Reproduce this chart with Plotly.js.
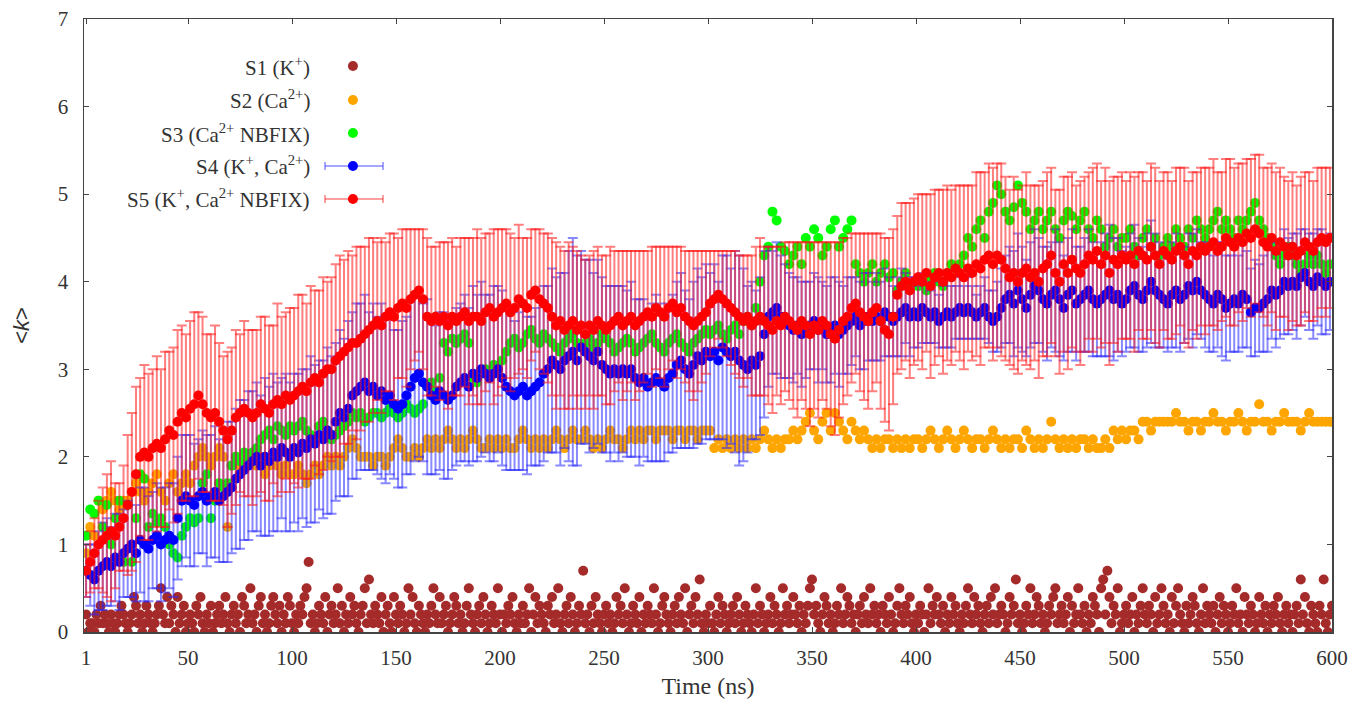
<!DOCTYPE html>
<html>
<head>
<meta charset="utf-8">
<script src="https://cdn.plot.ly/plotly-3.0.1.min.js"></script>
<style>html,body{margin:0;padding:0;background:#fff;}#chart{width:1356px;height:702px;}</style>
</head>
<body>
<div id="chart"></div>
<script>
// S1 is read at every 1 ns (t = 1..600); S2..S5 at every 2 ns (t = 1, 3, ..., 599)
const fineStart = 1, fineStep = 1, fineN = 600;
const tStart = 1, tStep = 2, nPoints = 300;

const seriesNames = ["S1 (K<sup>+</sup>)", "S2 (Ca<sup>2+</sup>)", "S3 (Ca<sup>2+</sup> NBFIX)",
                     "S4 (K<sup>+</sup>, Ca<sup>2+</sup>)", "S5 (K<sup>+</sup>, Ca<sup>2+</sup> NBFIX)"];

const xTickVals = [1, 50, 100, 150, 200, 250, 300, 350, 400, 450, 500, 550, 600];
const yTickVals = [0, 1, 2, 3, 4, 5, 6, 7];

const S1 = [
0.2,0.0,0.1,0.1,0.0,0.2,0.1,0.3,0.1,0.2,
0.1,0.0,0.2,0.1,0.0,0.1,0.2,0.3,0.2,0.1,
0.0,0.1,0.2,0.4,0.3,0.1,0.2,0.0,0.1,0.3,
0.2,0.1,0.0,0.1,0.2,0.3,0.5,0.2,0.1,0.4,
0.1,0.3,0.2,0.0,0.4,0.1,0.2,0.3,0.0,0.1,
0.2,0.1,0.0,0.3,0.2,0.4,0.1,0.0,0.2,0.1,
0.3,0.0,0.1,0.2,0.3,0.1,0.2,0.4,0.1,0.0,
0.2,0.3,0.1,0.2,0.0,0.4,0.3,0.1,0.2,0.5,
0.1,0.2,0.0,0.3,0.4,0.1,0.2,0.0,0.1,0.3,
0.4,0.2,0.1,0.3,0.0,0.2,0.1,0.4,0.3,0.1,
0.0,0.2,0.1,0.3,0.2,0.4,0.5,0.8,0.1,0.2,
0.0,0.1,0.3,0.2,0.1,0.4,0.0,0.2,0.3,0.1,
0.2,0.5,0.1,0.3,0.0,0.2,0.1,0.4,0.2,0.3,
0.1,0.0,0.2,0.3,0.5,0.1,0.6,0.2,0.1,0.3,
0.2,0.1,0.4,0.0,0.2,0.3,0.1,0.0,0.4,0.2,
0.1,0.3,0.2,0.0,0.1,0.5,0.2,0.4,0.1,0.0,
0.3,0.2,0.1,0.0,0.2,0.1,0.3,0.5,0.2,0.1,
0.4,0.1,0.2,0.3,0.0,0.1,0.2,0.4,0.3,0.1,
0.2,0.0,0.1,0.3,0.5,0.2,0.1,0.0,0.2,0.3,
0.1,0.4,0.2,0.0,0.1,0.3,0.2,0.1,0.5,0.2,
0.0,0.2,0.1,0.3,0.2,0.4,0.1,0.0,0.2,0.1,
0.3,0.1,0.2,0.5,0.0,0.2,0.4,0.1,0.3,0.2,
0.1,0.0,0.3,0.2,0.4,0.1,0.2,0.5,0.1,0.0,
0.2,0.3,0.1,0.4,0.2,0.0,0.1,0.3,0.2,0.7,
0.1,0.2,0.0,0.3,0.1,0.4,0.2,0.1,0.0,0.2,
0.3,0.1,0.2,0.0,0.1,0.4,0.2,0.3,0.1,0.5,
0.2,0.0,0.1,0.3,0.2,0.1,0.4,0.0,0.2,0.1,
0.3,0.2,0.1,0.5,0.2,0.0,0.1,0.3,0.4,0.2,
0.1,0.0,0.2,0.3,0.1,0.4,0.2,0.1,0.5,0.0,
0.2,0.3,0.1,0.4,0.2,0.6,0.1,0.0,0.2,0.1,
0.3,0.1,0.0,0.2,0.4,0.1,0.3,0.2,0.0,0.1,
0.2,0.3,0.1,0.4,0.2,0.0,0.1,0.3,0.2,0.1,
0.0,0.2,0.5,0.1,0.3,0.2,0.0,0.1,0.2,0.4,
0.1,0.3,0.2,0.0,0.1,0.5,0.2,0.3,0.1,0.2,
0.4,0.2,0.1,0.3,0.0,0.2,0.1,0.3,0.5,0.6,
0.2,0.3,0.1,0.0,0.2,0.4,0.3,0.1,0.2,0.0,
0.1,0.3,0.2,0.5,0.1,0.2,0.4,0.3,0.1,0.2,
0.0,0.2,0.3,0.1,0.4,0.2,0.1,0.5,0.2,0.3,
0.1,0.2,0.0,0.3,0.2,0.1,0.4,0.2,0.0,0.1,
0.3,0.5,0.2,0.1,0.3,0.2,0.4,0.1,0.0,0.2,
0.1,0.3,0.2,0.0,0.2,0.5,0.1,0.3,0.2,0.4,
0.2,0.1,0.3,0.0,0.2,0.1,0.4,0.2,0.3,0.1,
0.0,0.2,0.1,0.3,0.5,0.2,0.1,0.4,0.2,0.3,
0.1,0.0,0.2,0.3,0.1,0.4,0.2,0.5,0.1,0.2,
0.3,0.2,0.0,0.1,0.4,0.2,0.3,0.6,0.1,0.2,
0.0,0.1,0.3,0.2,0.5,0.1,0.2,0.4,0.3,0.1,
0.2,0.0,0.1,0.3,0.2,0.4,0.5,0.1,0.2,0.3,
0.1,0.2,0.4,0.0,0.3,0.1,0.2,0.5,0.2,0.1,
0.3,0.0,0.2,0.1,0.4,0.3,0.2,0.0,0.5,0.6,
0.2,0.7,0.4,0.1,0.3,0.2,0.5,0.0,0.1,0.2,
0.3,0.1,0.2,0.4,0.0,0.2,0.1,0.3,0.5,0.2,
0.1,0.3,0.2,0.0,0.4,0.1,0.2,0.5,0.3,0.1,
0.2,0.0,0.4,0.1,0.3,0.5,0.2,0.1,0.0,0.3,
0.1,0.2,0.4,0.3,0.1,0.0,0.2,0.5,0.1,0.3,
0.2,0.1,0.3,0.0,0.2,0.4,0.1,0.3,0.2,0.0,
0.1,0.3,0.2,0.5,0.1,0.2,0.0,0.4,0.2,0.1,
0.3,0.2,0.0,0.1,0.4,0.2,0.1,0.3,0.0,0.2,
0.1,0.3,0.2,0.4,0.1,0.0,0.2,0.3,0.1,0.2,
0.0,0.2,0.3,0.1,0.6,0.2,0.4,0.1,0.0,0.3,
0.2,0.1,0.0,0.3,0.2,0.6,0.1,0.0,0.2,0.3];

const S2 = [
0.9,1.2,1.1,1.5,1.4,1.5,1.6,1.5,1.4,1.5,
1.5,1.6,1.7,1.6,1.5,1.6,1.7,1.8,1.6,1.5,
1.7,1.8,1.6,1.7,1.8,1.7,1.9,2.0,2.1,2.0,
1.9,2.0,2.1,2.0,1.2,1.9,2.0,1.9,2.0,1.9,
2.0,1.9,2.0,1.8,1.9,2.0,1.9,1.8,1.9,1.8,
1.8,1.9,1.8,1.7,1.8,1.9,1.8,1.9,2.0,1.9,
2.0,1.9,2.0,2.1,2.2,2.1,2.0,2.0,2.0,1.9,
2.0,2.0,1.9,2.0,2.1,2.2,2.1,2.0,2.0,2.1,
2.0,2.1,2.2,2.1,2.2,2.1,2.2,2.3,2.2,2.1,
2.2,2.1,2.2,2.3,2.2,2.1,2.1,2.2,2.1,2.2,
2.1,2.2,2.1,2.1,2.2,2.3,2.2,2.1,2.2,2.1,
2.2,2.1,2.2,2.3,2.2,2.1,2.2,2.3,2.2,2.2,
2.3,2.2,2.1,2.2,2.1,2.2,2.3,2.2,2.2,2.1,
2.2,2.3,2.2,2.3,2.2,2.3,2.3,2.2,2.3,2.3,
2.3,2.2,2.3,2.3,2.2,2.3,2.3,2.2,2.3,2.3,
2.3,2.1,2.2,2.1,2.2,2.1,2.2,2.1,2.2,2.1,
2.2,2.1,2.2,2.3,2.2,2.1,2.2,2.1,2.2,2.2,
2.3,2.2,2.3,2.4,2.5,2.3,2.2,2.4,2.5,2.3,
2.5,2.4,2.3,2.2,2.4,2.3,2.2,2.3,2.2,2.1,
2.2,2.1,2.2,2.2,2.1,2.2,2.1,2.2,2.1,2.2,
2.2,2.1,2.2,2.3,2.2,2.1,2.2,2.3,2.2,2.1,
2.2,2.3,2.2,2.1,2.2,2.2,2.1,2.2,2.3,2.2,
2.1,2.2,2.1,2.2,2.2,2.1,2.3,2.2,2.1,2.2,
2.1,2.2,2.4,2.2,2.1,2.2,2.1,2.2,2.1,2.2,
2.2,2.1,2.2,2.1,2.1,2.2,2.1,2.3,2.2,2.3,
2.2,2.3,2.3,2.2,2.4,2.4,2.3,2.4,2.4,2.4,
2.4,2.4,2.5,2.4,2.4,2.3,2.4,2.4,2.3,2.4,
2.4,2.5,2.4,2.4,2.3,2.4,2.4,2.5,2.4,2.3,
2.4,2.4,2.6,2.4,2.4,2.3,2.4,2.4,2.5,2.4,
2.4,2.4,2.3,2.4,2.5,2.4,2.4,2.4,2.4,2.4];

const S3 = [
1.1,1.4,1.35,1.5,1.2,1.45,1.0,1.3,1.5,0.8,
1.45,0.8,1.3,1.8,1.75,1.2,1.35,1.25,1.3,1.2,
1.0,0.9,0.85,1.1,1.2,1.3,1.25,1.3,1.7,1.8,
1.3,1.5,1.7,1.65,1.7,1.9,2.0,1.95,2.05,2.0,
2.05,2.1,2.2,2.25,2.3,2.2,2.35,2.3,2.25,2.35,
2.3,2.35,2.4,2.3,2.25,2.2,2.35,2.4,2.3,2.2,
2.25,2.3,2.35,2.4,2.5,2.45,2.5,2.4,2.45,2.5,
2.5,2.45,2.5,2.55,2.5,2.45,2.5,2.6,2.55,2.5,
2.55,2.6,2.8,2.85,2.75,2.9,3.3,3.2,3.35,3.3,
3.35,3.4,3.3,2.9,2.85,2.95,3.0,2.95,3.05,3.0,
3.1,3.2,3.3,3.35,3.25,3.3,3.4,3.45,3.35,3.3,
3.4,3.35,3.3,3.25,3.2,3.3,3.35,3.4,3.3,3.25,
3.3,3.35,3.25,3.3,3.4,3.35,3.3,3.2,3.25,3.3,
3.35,3.3,3.2,3.25,3.3,3.35,3.4,3.3,3.25,3.2,
3.3,3.35,3.4,3.3,3.25,3.2,3.3,3.35,3.4,3.45,
3.4,3.45,3.5,3.4,3.35,3.45,3.5,3.4,3.55,3.6,
3.5,3.7,4.0,4.3,4.4,4.8,4.7,4.4,4.35,4.2,
4.3,4.4,4.2,4.5,4.4,4.6,4.5,4.3,4.4,4.6,
4.7,4.4,4.5,4.6,4.7,4.2,4.1,4.0,4.1,4.2,
4.0,4.1,4.2,4.05,4.1,3.9,4.0,4.1,3.95,4.0,
3.95,4.0,3.9,4.05,4.1,4.0,3.95,4.1,4.2,4.15,
4.2,4.3,4.5,4.4,4.6,4.7,4.5,4.8,4.9,5.1,
5.0,4.8,4.7,4.85,5.1,4.9,4.8,4.6,4.7,4.8,
4.6,4.7,4.8,4.6,4.5,4.7,4.8,4.75,4.6,4.7,
4.8,4.6,4.5,4.7,4.6,4.4,4.5,4.6,4.4,4.5,
4.5,4.6,4.4,4.3,4.5,4.6,4.4,4.5,4.3,4.4,
4.5,4.4,4.6,4.5,4.4,4.6,4.5,4.7,4.6,4.5,
4.6,4.7,4.8,4.6,4.7,4.6,4.5,4.7,4.6,4.7,
4.8,4.9,4.7,4.6,4.5,4.4,4.3,4.2,4.3,4.4,
4.3,4.2,4.1,4.2,4.3,4.2,4.3,4.2,4.1,4.2];

const S4 = [
0.7,0.65,0.6,0.7,0.75,0.8,0.75,0.85,0.8,0.9,
0.95,1.0,0.9,1.05,1.0,0.95,1.05,1.1,1.0,1.05,
1.1,1.05,1.3,1.5,1.55,1.5,1.45,1.55,1.6,1.5,
1.55,1.6,1.5,1.55,1.6,1.65,1.75,1.8,1.85,1.9,
1.95,2.0,1.9,2.0,1.95,2.05,2.0,2.1,2.05,2.0,
2.1,2.05,2.15,2.1,2.2,2.15,2.25,2.2,2.3,2.25,
2.4,2.5,2.45,2.55,2.7,2.75,2.8,2.85,2.75,2.8,
2.7,2.75,2.65,2.7,2.6,2.55,2.6,2.7,2.8,2.9,
2.95,2.85,2.8,2.7,2.65,2.75,2.7,2.65,2.7,2.8,
2.85,2.9,2.8,2.95,2.9,3.0,2.95,2.9,2.95,3.0,
2.9,2.8,2.75,2.7,2.75,2.8,2.7,2.75,2.8,2.85,
2.95,3.0,3.1,3.05,3.0,3.1,3.15,3.2,3.1,3.25,
3.2,3.15,3.1,3.2,3.05,3.0,2.95,3.0,2.95,3.0,
2.95,3.0,2.9,2.85,2.9,2.8,2.85,2.9,2.85,2.8,
2.9,2.95,3.05,3.1,3.0,2.95,3.05,3.15,3.1,3.2,
3.15,3.2,3.1,3.25,3.2,3.15,3.2,3.1,3.05,3.0,
3.1,3.05,3.15,3.4,3.6,3.65,3.7,3.6,3.55,3.5,
3.45,3.5,3.4,3.45,3.5,3.55,3.45,3.5,3.4,3.45,
3.5,3.4,3.45,3.5,3.55,3.6,3.5,3.55,3.6,3.55,
3.6,3.55,3.65,3.6,3.55,3.6,3.65,3.7,3.6,3.65,
3.6,3.7,3.65,3.6,3.65,3.55,3.6,3.65,3.6,3.65,
3.7,3.65,3.7,3.65,3.6,3.65,3.7,3.6,3.55,3.6,
3.7,3.8,3.85,3.75,3.9,3.8,3.7,3.85,3.95,3.9,
3.8,3.75,3.85,3.9,3.8,3.7,3.85,3.9,3.75,3.8,
3.85,3.9,3.8,3.75,3.8,3.85,3.9,3.8,3.85,3.75,
3.8,3.9,3.95,3.85,3.8,3.9,4.0,3.9,3.85,3.8,
3.75,3.85,3.9,3.8,3.85,3.95,3.9,4.0,3.9,3.85,
3.8,3.75,3.85,3.8,3.7,3.75,3.8,3.75,3.85,3.8,
3.65,3.7,3.7,3.75,3.8,3.9,3.85,3.9,4.0,3.95,
4.0,3.95,4.05,4.1,4.0,3.95,4.05,4.0,3.95,4.0];

const S4err = [
0.3,0.35,0.4,0.45,0.5,0.5,0.45,0.5,0.55,0.5,
0.55,0.6,0.55,0.6,0.65,0.6,0.55,0.6,0.65,0.6,
0.6,0.65,0.7,0.75,0.7,0.75,0.7,0.65,0.7,0.75,
0.7,0.75,0.7,0.75,0.8,0.75,0.8,0.85,0.8,0.85,
0.8,0.85,0.8,0.9,0.85,0.9,0.85,0.8,0.9,0.85,
0.85,0.9,0.85,0.9,0.95,0.9,0.85,0.9,0.95,0.9,
0.9,0.95,0.9,1.0,0.95,1.0,0.95,1.0,0.9,0.95,
0.9,1.0,0.95,0.9,0.85,0.9,0.95,0.9,1.0,0.95,
0.95,0.9,1.0,0.9,0.85,0.9,0.95,0.9,0.85,0.9,
0.9,0.95,0.9,1.0,0.95,1.0,0.9,0.95,1.0,0.95,
1.0,0.95,0.9,0.85,0.9,0.95,0.9,0.85,0.9,0.95,
1.0,0.95,1.05,1.0,1.1,1.0,1.2,1.3,1.2,1.1,
1.05,1.1,1.0,1.05,1.0,0.95,1.0,0.95,1.0,0.95,
0.95,1.0,0.9,0.95,0.9,0.85,0.9,0.95,0.9,0.85,
0.85,0.9,0.95,1.0,0.9,0.85,0.95,1.0,0.95,1.0,
0.95,1.0,0.9,1.05,1.1,1.0,1.15,1.2,1.1,0.95,
0.9,0.85,0.9,0.95,0.8,0.7,0.75,0.7,0.65,0.6,
0.6,0.55,0.6,0.55,0.5,0.55,0.6,0.5,0.55,0.6,
0.55,0.6,0.5,0.55,0.5,0.45,0.5,0.55,0.5,0.45,
0.5,0.45,0.5,0.45,0.4,0.45,0.5,0.4,0.45,0.4,
0.35,0.4,0.35,0.3,0.35,0.3,0.35,0.4,0.35,0.3,
0.35,0.3,0.35,0.3,0.25,0.3,0.35,0.3,0.35,0.4,
0.45,0.5,0.55,0.6,0.65,0.6,0.55,0.6,0.65,0.6,
0.6,0.65,0.6,0.7,0.65,0.6,0.65,0.7,0.65,0.6,
0.65,0.7,0.65,0.6,0.65,0.7,0.75,0.7,0.65,0.6,
0.6,0.65,0.7,0.65,0.6,0.65,0.7,0.65,0.6,0.55,
0.55,0.6,0.65,0.6,0.55,0.6,0.65,0.6,0.55,0.6,
0.6,0.55,0.6,0.65,0.6,0.55,0.6,0.55,0.6,0.55,
0.5,0.55,0.5,0.55,0.6,0.55,0.6,0.55,0.6,0.55,
0.55,0.6,0.55,0.5,0.55,0.6,0.55,0.6,0.55,0.55];

const S5 = [
0.7,0.8,0.9,1.0,1.05,1.1,1.15,1.1,1.2,1.3,
1.45,1.6,1.8,2.0,2.05,2.0,2.1,2.15,2.1,2.2,
2.3,2.25,2.4,2.5,2.45,2.55,2.6,2.7,2.6,2.5,
2.45,2.5,2.4,2.3,2.2,2.3,2.45,2.5,2.55,2.5,
2.45,2.5,2.6,2.55,2.5,2.6,2.65,2.6,2.7,2.65,
2.7,2.75,2.8,2.75,2.85,2.9,2.85,2.95,3.0,3.0,
3.1,3.15,3.2,3.25,3.3,3.3,3.35,3.4,3.45,3.5,
3.55,3.5,3.6,3.65,3.6,3.7,3.75,3.7,3.8,3.85,
3.9,3.8,3.6,3.55,3.6,3.55,3.6,3.5,3.6,3.55,
3.6,3.65,3.55,3.6,3.6,3.55,3.65,3.7,3.6,3.65,
3.7,3.75,3.65,3.7,3.8,3.75,3.7,3.85,3.9,3.8,
3.75,3.7,3.6,3.5,3.55,3.45,3.5,3.55,3.45,3.5,
3.4,3.5,3.45,3.55,3.5,3.45,3.5,3.55,3.6,3.5,
3.55,3.6,3.5,3.55,3.6,3.65,3.6,3.7,3.65,3.6,
3.7,3.75,3.65,3.7,3.6,3.55,3.5,3.55,3.6,3.65,
3.75,3.8,3.85,3.8,3.75,3.7,3.65,3.6,3.55,3.6,
3.5,3.55,3.6,3.55,3.5,3.45,3.55,3.5,3.6,3.55,
3.5,3.45,3.55,3.5,3.4,3.5,3.45,3.55,3.5,3.4,
3.35,3.45,3.55,3.6,3.7,3.75,3.65,3.6,3.55,3.65,
3.7,3.55,3.45,3.4,3.6,3.85,3.95,4.0,3.9,4.0,
4.05,4.0,4.1,3.95,4.05,4.1,4.0,4.1,4.05,4.15,
4.1,4.05,4.15,4.1,4.2,4.15,4.25,4.3,4.2,4.3,
4.25,4.15,4.05,4.1,4.0,4.1,4.15,4.05,4.1,4.0,
4.15,4.2,4.3,4.1,4.0,4.2,4.1,4.25,4.15,4.1,
4.2,4.3,4.25,4.35,4.2,4.3,4.1,4.25,4.2,4.3,
4.25,4.3,4.2,4.35,4.3,4.25,4.4,4.3,4.2,4.35,
4.3,4.25,4.35,4.4,4.3,4.2,4.35,4.3,4.4,4.35,
4.4,4.45,4.35,4.4,4.5,4.45,4.4,4.5,4.45,4.55,
4.5,4.6,4.55,4.45,4.4,4.5,4.35,4.45,4.4,4.3,
4.4,4.3,4.35,4.45,4.4,4.35,4.45,4.5,4.45,4.5];

const S5err = [
0.3,0.35,0.4,0.5,0.6,0.7,0.8,0.6,0.5,0.6,
0.8,0.9,1.0,0.9,1.0,0.95,0.9,1.0,0.9,1.0,
0.9,1.0,1.05,1.0,0.95,1.0,1.05,0.95,1.0,0.9,
0.95,1.0,0.9,0.85,1.0,0.95,1.0,0.9,1.0,0.95,
1.0,0.95,1.0,1.05,1.0,0.9,1.1,1.0,0.95,1.05,
1.0,1.1,1.05,1.0,1.1,1.0,1.05,1.1,1.0,1.05,
1.1,1.15,1.05,1.1,1.0,1.1,1.05,1.0,1.05,1.0,
0.9,1.0,0.85,0.9,0.95,0.8,0.85,0.9,0.8,0.75,
0.7,0.8,0.9,0.85,0.8,0.9,0.85,0.95,0.9,0.85,
0.9,0.85,0.95,0.9,1.0,0.95,0.9,0.85,1.0,0.95,
0.9,0.85,0.9,0.8,0.85,0.75,0.8,0.75,0.7,0.8,
0.8,0.85,0.9,0.95,0.85,0.9,0.95,0.85,0.9,0.8,
0.85,0.8,0.9,0.85,0.8,0.85,0.9,0.8,0.75,0.85,
0.8,0.75,0.85,0.8,0.75,0.7,0.8,0.7,0.75,0.8,
0.7,0.65,0.75,0.7,0.75,0.8,0.85,0.8,0.75,0.7,
0.6,0.55,0.5,0.55,0.6,0.65,0.7,0.7,0.75,0.7,
0.8,0.85,0.9,0.85,0.9,0.95,0.85,0.9,0.85,0.9,
0.95,1.0,0.9,0.95,1.05,0.95,1.0,0.9,0.95,1.05,
1.1,1.0,0.95,0.9,0.85,0.8,0.9,0.95,1.0,0.9,
0.85,1.0,1.05,1.1,1.0,0.9,0.95,0.9,1.0,0.95,
0.95,1.0,0.9,1.05,1.0,0.95,1.05,1.0,1.0,0.95,
1.0,1.05,0.95,1.0,1.05,1.1,1.0,1.05,1.1,1.05,
1.1,1.05,1.0,1.1,1.05,1.0,1.1,1.05,1.0,1.1,
1.0,1.05,1.0,0.95,1.05,1.0,1.1,1.0,0.95,1.05,
1.0,0.95,1.05,1.0,0.95,1.0,1.05,0.95,1.0,0.95,
0.9,0.95,1.0,0.9,0.95,0.9,0.95,1.0,0.95,0.9,
0.95,0.9,0.95,0.9,1.0,0.95,0.9,0.95,0.9,0.95,
0.9,0.95,0.9,0.85,0.9,0.95,0.9,0.85,0.9,0.85,
0.9,0.85,0.9,0.85,0.9,0.85,0.9,0.85,0.8,0.85,
0.85,0.8,0.85,0.8,0.85,0.8,0.85,0.8,0.85,0.8];

// time indices
const timeFine = [];
for (let i = 0; i < fineN; i++) timeFine.push(fineStart + i * fineStep);
const time = [];
for (let i = 0; i < nPoints; i++) time.push(tStart + i * tStep);

const colors = ["#a52a2a", "#ffa500", "#00ff00", "#0000ff", "#ff0000"];
const errColors = [null, null, null, "rgba(40,40,255,0.55)", "rgba(255,20,20,0.55)"];
const values = [S1, S2, S3, S4, S5];
const times = [timeFine, time, time, time, time];
const errors = [null, null, null, S4err, S5err];

const traces = values.map((v, k) => {
  const tr = {
    type: "scatter", mode: "markers", x: times[k], y: v, name: seriesNames[k],
    showlegend: false, hoverinfo: "skip",
    marker: { color: colors[k], size: 10, line: { width: 0 } }
  };
  if (errors[k]) {
    tr.error_y = { type: "data", array: errors[k], visible: true,
                   color: errColors[k], thickness: 2, width: 5 };
  }
  return tr;
});

// gnuplot-style key: text on the left, sample on the right
const keyX = 0.1827, keyMarkX = 0.2155, keyLine0 = 0.1931, keyLine1 = 0.2396;
const keyY = [0.9233, 0.8679, 0.8140, 0.7602, 0.7064];
const serif = "Liberation Serif, Times New Roman, serif";
const annotations = [], shapes = [];
seriesNames.forEach((nm, k) => {
  annotations.push({ xref: "paper", yref: "paper", x: keyX, y: keyY[k], text: nm,
    showarrow: false, xanchor: "right", yanchor: "middle",
    font: { family: serif, size: 21, color: "#333" } });
  if (errors[k]) {
    shapes.push({ type: "line", xref: "paper", yref: "paper", x0: keyLine0, x1: keyLine1,
      y0: keyY[k], y1: keyY[k], line: { color: errColors[k], width: 1.5 } });
    [keyLine0, keyLine1].forEach(xx => shapes.push({ type: "line", xref: "paper", yref: "paper",
      ysizemode: "pixel", yanchor: keyY[k], x0: xx, x1: xx, y0: -4, y1: 4,
      line: { color: errColors[k], width: 1.5 } }));
  }
  shapes.push({ type: "circle", xref: "paper", yref: "paper", xsizemode: "pixel", ysizemode: "pixel",
    xanchor: keyMarkX, yanchor: keyY[k], x0: -5, x1: 5, y0: -5, y1: 5,
    fillcolor: colors[k], line: { width: 0 } });
});

const axisFont = { family: serif, size: 21, color: "#333" };

const layout = {
  width: 1356, height: 702,
  margin: { l: 84, r: 24, t: 19, b: 70 },
  paper_bgcolor: "#fff", plot_bgcolor: "#fff",
  showlegend: false,
  xaxis: {
    range: [0, 600], tickvals: xTickVals, ticktext: xTickVals.map(String),
    ticks: "inside", ticklen: 5, tickcolor: "#444", showgrid: false, zeroline: false,
    showline: true, linecolor: "#444", linewidth: 1.5, mirror: "ticks",
    tickfont: axisFont, ticklabelstandoff: 6,
    title: { text: "Time (ns)", font: { family: serif, size: 24, color: "#333" }, standoff: 8 }
  },
  yaxis: {
    range: [0, 7], tickvals: yTickVals, ticktext: yTickVals.map(String),
    ticks: "inside", ticklen: 5, tickcolor: "#444", showgrid: false, zeroline: false,
    showline: true, linecolor: "#444", linewidth: 1.5, mirror: "ticks",
    tickfont: axisFont, ticklabelstandoff: 10,
    title: { text: "&lt;<i>k</i>&gt;", font: { family: "Liberation Sans, Arial, sans-serif", size: 22, color: "#333" }, standoff: 22 }
  },
  annotations: annotations, shapes: shapes
};

Plotly.newPlot("chart", traces, layout, { displayModeBar: false, staticPlot: true });
</script>
</body>
</html>
